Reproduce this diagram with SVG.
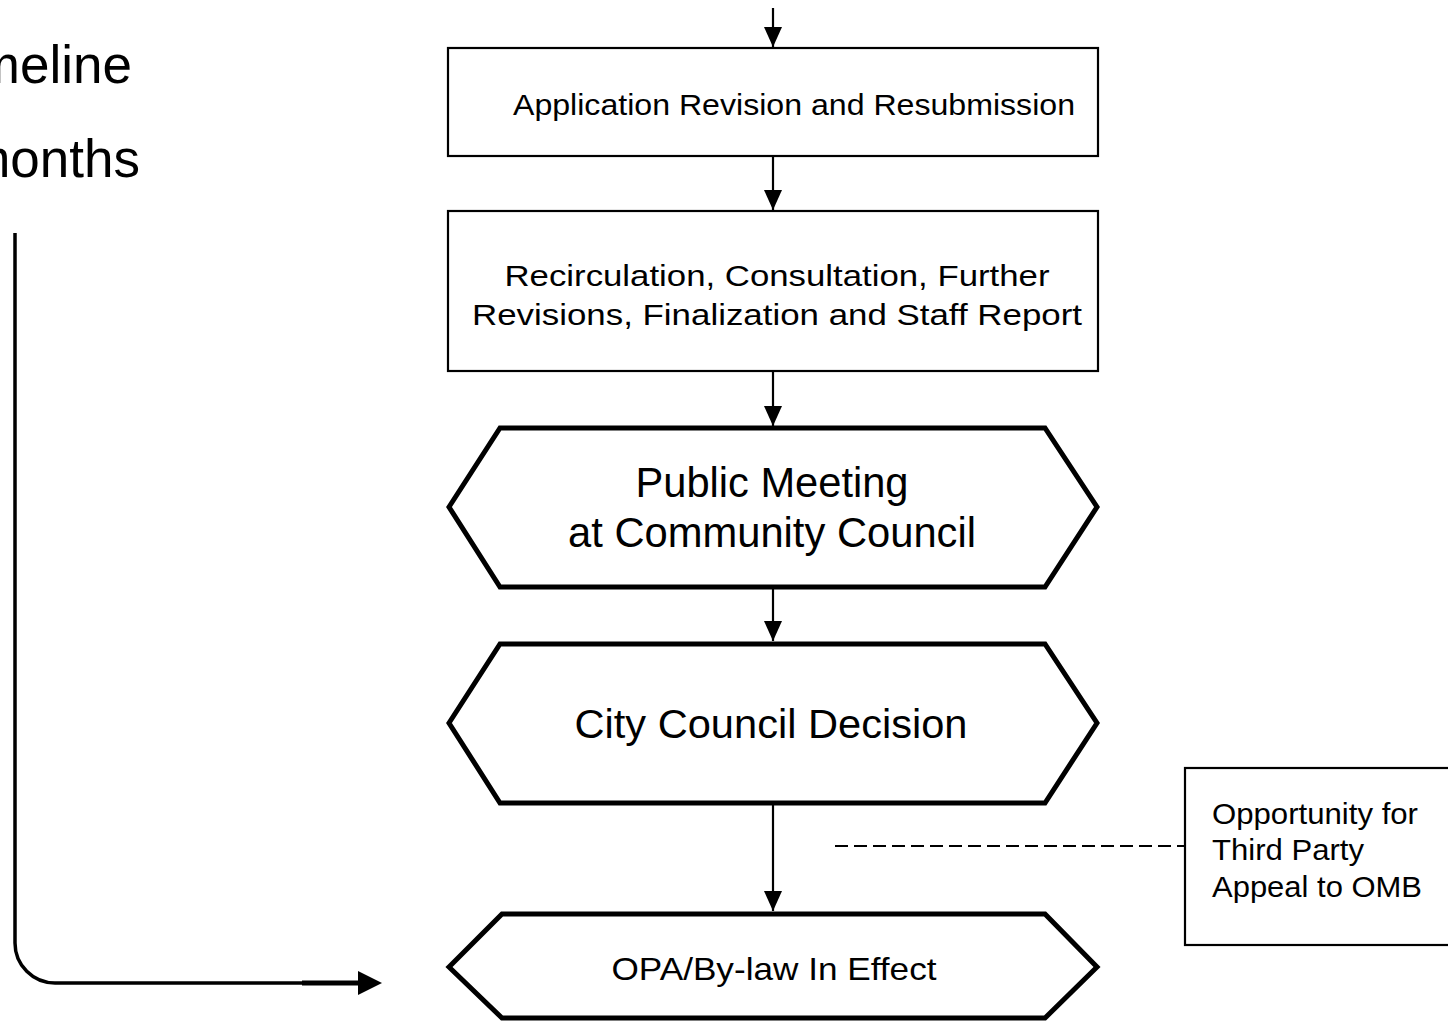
<svg xmlns="http://www.w3.org/2000/svg" width="1448" height="1023" viewBox="0 0 1448 1023">
<defs>
<style>
.t{font-family:"Liberation Sans",Arial,sans-serif;fill:#000}
.box{fill:#fff;stroke:#000;stroke-width:2.2}
.hex{fill:#fff;stroke:#000;stroke-width:5;stroke-linejoin:miter}
.con{stroke:#000;stroke-width:2.2;fill:none}
</style>
<marker id="ah" viewBox="0 0 20 18" refX="20" refY="9" markerWidth="20" markerHeight="18" markerUnits="userSpaceOnUse" orient="auto">
<path d="M0,0 L20,9 L0,18 Z" fill="#000"/>
</marker>
</defs>
<rect width="1448" height="1023" fill="#fff"/>

<g id="timeline-label">
<text class="t" x="132" y="83" font-size="53" text-anchor="end">Timeline</text>
<text class="t" x="140" y="177" font-size="53" text-anchor="end">months</text>
</g>

<g id="connectors">
<line class="con" x1="773" y1="8" x2="773" y2="47" marker-end="url(#ah)"/>
<line class="con" x1="773" y1="156" x2="773" y2="210" marker-end="url(#ah)"/>
<line class="con" x1="773" y1="371" x2="773" y2="426" marker-end="url(#ah)"/>
<line class="con" x1="773" y1="589" x2="773" y2="641" marker-end="url(#ah)"/>
<line class="con" x1="773" y1="805" x2="773" y2="911" marker-end="url(#ah)"/>
<line x1="835" y1="846" x2="1185" y2="846" stroke="#000" stroke-width="2.2" stroke-dasharray="13,6"/>
<path d="M15,233 L15,943 A40,40 0 0 0 55,983 L302,983" stroke="#000" stroke-width="3.5" fill="none"/>
<line x1="302" y1="983" x2="362" y2="983" stroke="#000" stroke-width="5"/>
<path d="M358,971 L382,983 L358,995 Z" fill="#000"/>
</g>

<g id="node-application-revision">
<rect class="box" x="448" y="48" width="650" height="108"/>
<text class="t" x="794" y="115" font-size="30" text-anchor="middle" textLength="562" lengthAdjust="spacingAndGlyphs">Application Revision and Resubmission</text>
</g>

<g id="node-recirculation">
<rect class="box" x="448" y="211" width="650" height="160"/>
<text class="t" x="777" y="286" font-size="30" text-anchor="middle" textLength="545" lengthAdjust="spacingAndGlyphs">Recirculation, Consultation, Further</text>
<text class="t" x="777" y="325" font-size="30" text-anchor="middle" textLength="610" lengthAdjust="spacingAndGlyphs">Revisions, Finalization and Staff Report</text>
</g>

<g id="node-public-meeting">
<polygon class="hex" points="449,507 500,428 1045,428 1097,507 1045,587 500,587"/>
<text class="t" x="772" y="497" font-size="42" text-anchor="middle" textLength="273" lengthAdjust="spacingAndGlyphs">Public Meeting</text>
<text class="t" x="772" y="547" font-size="42" text-anchor="middle" textLength="408" lengthAdjust="spacingAndGlyphs">at Community Council</text>
</g>

<g id="node-city-council">
<polygon class="hex" points="449,723 500,644 1045,644 1097,723 1045,803 500,803"/>
<text class="t" x="771" y="738" font-size="41" text-anchor="middle" textLength="393" lengthAdjust="spacingAndGlyphs">City Council Decision</text>
</g>

<g id="node-opa-bylaw">
<polygon class="hex" points="449,967 502,914 1045,914 1097,967 1045,1018 502,1018"/>
<text class="t" x="774" y="980" font-size="32" text-anchor="middle" textLength="325" lengthAdjust="spacingAndGlyphs">OPA/By-law In Effect</text>
</g>

<g id="node-third-party">
<rect class="box" x="1185" y="768" width="280" height="177"/>
<text class="t" x="1212" y="824" font-size="30" textLength="206" lengthAdjust="spacingAndGlyphs">Opportunity for</text>
<text class="t" x="1212" y="860" font-size="30" textLength="152" lengthAdjust="spacingAndGlyphs">Third Party</text>
<text class="t" x="1212" y="897" font-size="30" textLength="210" lengthAdjust="spacingAndGlyphs">Appeal to OMB</text>
</g>
</svg>
